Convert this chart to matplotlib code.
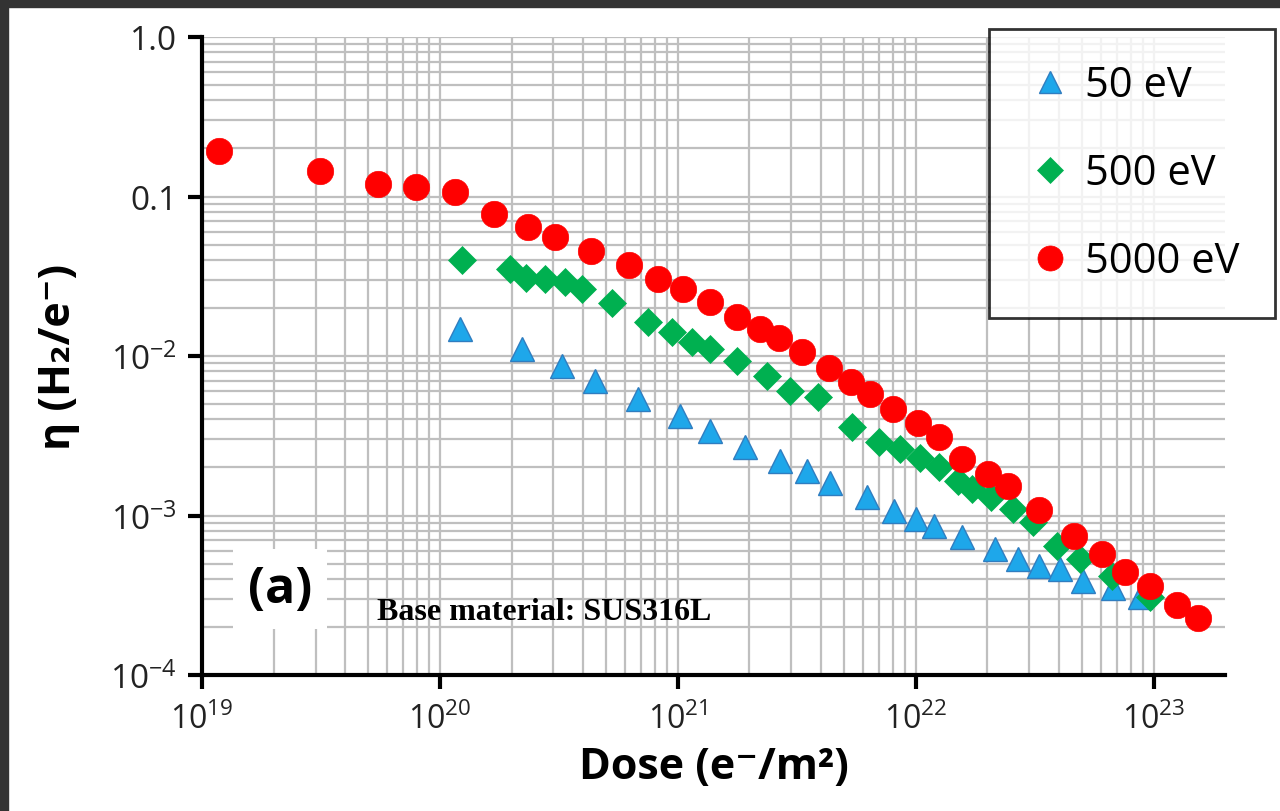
import numpy as np
import matplotlib.pyplot as plt
from matplotlib.patches import Rectangle
from matplotlib.ticker import FixedLocator, FixedFormatter, LogLocator, NullFormatter

#data
dose_50 = [1.21e20, 2.21e20, 3.26e20, 4.48e20, 6.79e20, 1.02e21, 1.36e21, 1.91e21,
           2.69e21, 3.48e21, 4.36e21, 6.22e21, 8.09e21, 1.0e22, 1.19e22, 1.57e22,
           2.15e22, 2.69e22, 3.29e22, 4.06e22, 5.04e22, 6.73e22, 8.73e22]
eta_50 = [0.0148, 0.0111, 0.0087, 0.0070, 0.0054, 0.0042, 0.0034, 0.0027,
          0.0022, 0.0019, 0.0016, 0.0013, 0.00107, 0.00095, 0.00086, 0.00073,
          0.00062, 0.00053, 0.00048, 0.00046, 0.00039, 0.00035, 0.00031]

dose_500 = [1.24e20, 1.97e20, 2.30e20, 2.76e20, 3.35e20, 3.95e20, 5.28e20, 7.48e20,
            9.44e20, 1.15e21, 1.36e21, 1.77e21, 2.37e21, 2.96e21, 3.87e21, 5.38e21,
            7.0e21, 8.57e21, 1.04e22, 1.25e22, 1.50e22, 1.73e22, 2.08e22, 2.56e22,
            3.10e22, 3.91e22, 4.89e22, 6.67e22, 9.61e22]
eta_500 = [0.040, 0.0351, 0.0308, 0.0304, 0.0291, 0.0263, 0.0215, 0.0163,
           0.0141, 0.0122, 0.0111, 0.0093, 0.0075, 0.0060, 0.0055, 0.0036,
           0.0029, 0.0026, 0.0023, 0.0020, 0.00164, 0.00147, 0.00131, 0.0011,
           0.00091, 0.00064, 0.00053, 0.00042, 0.00031]

dose_5000 = [1.18e19, 3.13e19, 5.48e19, 7.93e19, 1.16e20, 1.69e20, 2.34e20, 3.04e20,
             4.31e20, 6.22e20, 8.24e20, 1.05e21, 1.36e21, 1.77e21, 2.21e21, 2.65e21,
             3.32e21, 4.31e21, 5.33e21, 6.41e21, 8.0e21, 1.02e22, 1.25e22, 1.57e22,
             2.01e22, 2.44e22, 3.29e22, 4.61e22, 6.05e22, 7.55e22, 9.70e22, 1.25e23,
             1.53e23]
eta_5000 = [0.193, 0.145, 0.120, 0.115, 0.107, 0.078, 0.064, 0.0557,
            0.0455, 0.037, 0.0304, 0.0263, 0.0218, 0.0176, 0.0148, 0.013,
            0.0106, 0.0084, 0.0069, 0.0058, 0.00465, 0.0038, 0.0031, 0.00226,
            0.00182, 0.00153, 0.00108, 0.00074, 0.00057, 0.00044, 0.00036, 0.000275,
            0.000228]

ytick_vals = [1e-4, 1e-3, 1e-2, 0.1, 1.0]
ytick_labels = [r'$\mathregular{10^{-4}}$', r'$\mathregular{10^{-3}}$', r'$\mathregular{10^{-2}}$', '0.1', '1.0']
xtick_vals = [1e19, 1e20, 1e21, 1e22, 1e23]
xtick_labels = [r'$\mathregular{10^{19}}$', r'$\mathregular{10^{20}}$', r'$\mathregular{10^{21}}$',
                r'$\mathregular{10^{22}}$', r'$\mathregular{10^{23}}$']

plt.rcParams['font.family'] = ['Open Sans', 'DejaVu Sans']

fig = plt.figure(figsize=(12.8, 8.12), dpi=100)
ax = fig.add_axes([202/1280, 1-676/812, 1023/1280, 638/812])

ax.set_xscale('log')
ax.set_yscale('log')
ax.set_xlim(1e19, 10**23.3)
ax.set_ylim(1e-4, 1.0)

gc = '#bfbfbf'
ax.grid(True, which='both', color=gc, linewidth=1.6)
ax.set_axisbelow(True)

ax.plot(dose_50, eta_50, ls='none', marker='^', ms=17, mfc='#1ea7ea', mec='#2f7dc0', mew=1.0,
        label='50 eV', zorder=3)
ax.plot(dose_500, eta_500, ls='none', marker='D', ms=14, mfc='#00b050', mec='#00b050', mew=0.5,
        label='500 eV', zorder=4)
ax.plot(dose_5000, eta_5000, ls='none', marker='o', ms=19, mfc='#ff0000', mec='#ff0000', mew=0.5,
        label='5000 eV', zorder=5)

for s in ['top', 'right']:
    ax.spines[s].set_visible(False)
for s in ['left', 'bottom']:
    ax.spines[s].set_linewidth(3)

ax.yaxis.set_major_locator(FixedLocator(ytick_vals))
ax.yaxis.set_major_formatter(FixedFormatter(ytick_labels))
ax.xaxis.set_major_locator(FixedLocator(xtick_vals))
ax.xaxis.set_major_formatter(FixedFormatter(xtick_labels))
ax.xaxis.set_minor_locator(LogLocator(base=10, subs=np.arange(2, 10), numticks=20))
ax.yaxis.set_minor_locator(LogLocator(base=10, subs=np.arange(2, 10), numticks=20))
ax.xaxis.set_minor_formatter(NullFormatter())
ax.yaxis.set_minor_formatter(NullFormatter())
ax.tick_params(which='major', direction='out', length=10, width=3)
ax.tick_params(which='minor', length=0)
ax.tick_params(axis='y', labelsize=24, pad=8, labelcolor='#222222')
ax.tick_params(axis='x', labelsize=23, pad=10, labelcolor='#222222')

ax.set_xlabel('Dose (e\u207b/m\u00b2)', fontsize=31, fontweight='bold', labelpad=6)
ax.set_ylabel('\u03b7 (H\u2082/e\u207b)', fontsize=31, fontweight='bold', labelpad=22)

ax.text(0.076, 0.135, '(a)', transform=ax.transAxes, fontsize=36, fontweight='bold',
        ha='center', va='center', zorder=6,
        bbox=dict(boxstyle='square,pad=0.3', fc='white', ec='none'))
ax.text(0.171, 0.099, 'Base material: SUS316L', transform=ax.transAxes, fontsize=23,
        fontweight='bold', family='Liberation Serif', ha='left', va='center', zorder=6)

leg = fig.legend(loc='upper right', bbox_to_anchor=(1275/1280, 1-30/812), borderaxespad=0,
                 fontsize=30, frameon=True, fancybox=False, edgecolor='black', labelspacing=1.1,
                 handletextpad=0.25, borderpad=0.85, handlelength=1.2, markerscale=0.95)
leg.get_frame().set_linewidth(2)

# dark frame of the screenshot
fig.patches.append(Rectangle((0, 1-8/812), 1, 8/812, transform=fig.transFigure,
                             color='#333333', zorder=10))
fig.patches.append(Rectangle((0, 0), 8/1280, 1, transform=fig.transFigure,
                             color='#333333', zorder=10))

fig.savefig('out.png', dpi=100)
